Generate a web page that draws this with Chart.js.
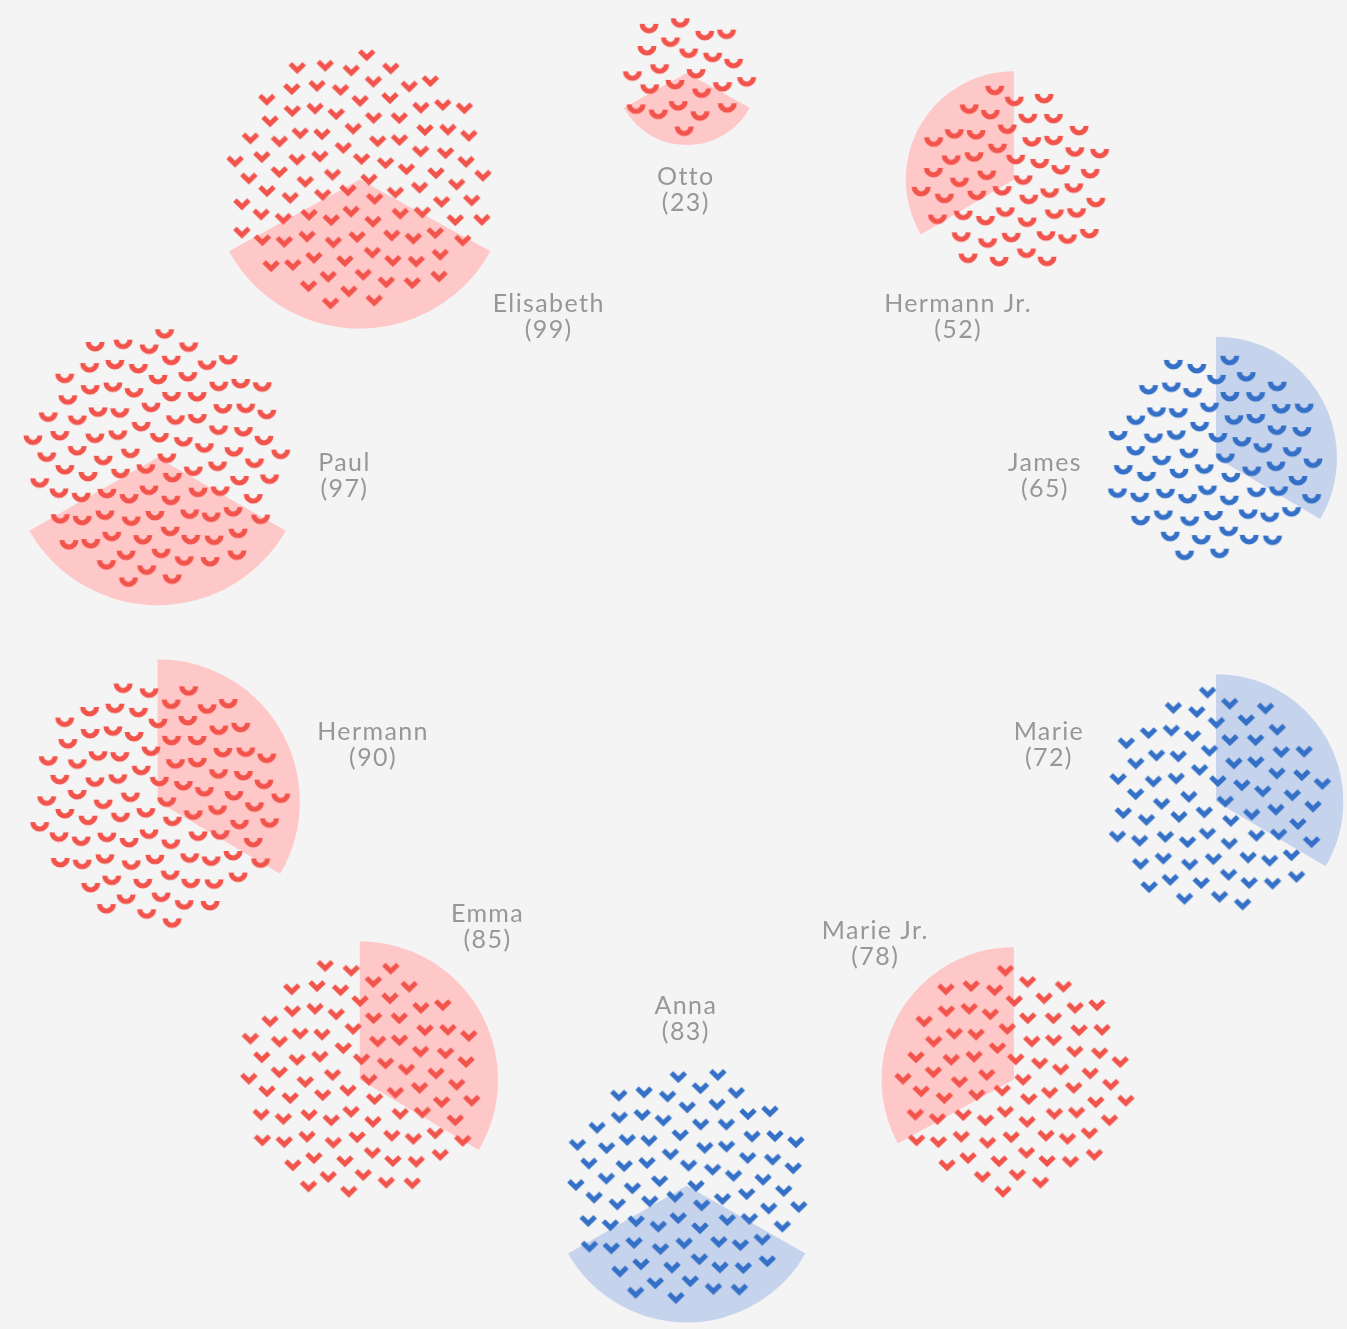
<!DOCTYPE html>
<html>
<head>
<meta charset="utf-8">
<title>Familie</title>
<script src="https://cdn.jsdelivr.net/npm/chart.js@4.4.0/dist/chart.umd.min.js"></script>
<style>
  html, body { margin: 0; padding: 0; background: #f4f4f4; }
  #wrap { width: 1347px; height: 1329px; }
</style>
</head>
<body>
<div id="wrap"><canvas id="ring" width="1347" height="1329"></canvas></div>
<script>
// === DATA (clockwise from the top, smallest first) ===
const names  = ['Otto', 'Hermann Jr.', 'James', 'Marie', 'Marie Jr.', 'Anna', 'Emma', 'Hermann', 'Paul', 'Elisabeth'];
const values = [23, 52, 65, 72, 78, 83, 85, 90, 97, 99];
const share  = [0.34, 0.335, 0.335, 0.335, 0.33, 0.335, 0.335, 0.335, 0.335, 0.34];
const side   = ['down', 'left', 'right', 'right', 'left', 'down', 'right', 'right', 'down', 'down'];
const glyph  = ['smile', 'smile', 'smile', 'check', 'check', 'check', 'check', 'smile', 'smile', 'check'];
const group  = ['red', 'red', 'blue', 'blue', 'red', 'blue', 'red', 'red', 'red', 'red'];

// label anchors (centre of the two text lines)
const labelAt = [[686, 183], [962, 312], [1050, 473], [1054, 746], [878, 948],
                 [686, 1024], [485, 931], [369, 746], [340, 473], [547, 312]];

// === LAYOUT ===
const W = 1347, H = 1329;
const RING = { x: 687, y: 629, r: 564 };
const CLOUD_K = 13.2;   // cloud radius = k * sqrt(n)
const WEDGE_K = 15.2;   // wedge radius = k * sqrt(n)

const palette = {
  red:  { ink: '#f2544c', soft: '#ffc8c8' },
  blue: { ink: '#3470c7', soft: '#c5d3ec' }
};

const centers = values.map((v, i) => {
  const a = i * Math.PI * 2 / values.length;
  return { x: RING.x + RING.r * Math.sin(a), y: RING.y - RING.r * Math.cos(a) };
});

// sunflower spread of n marks inside a disc
function cloud(c, n, r){
  const pts = [];
  const golden = Math.PI * (3 - Math.sqrt(5));
  for (let i = 0; i < n; i++){
    const d = r * Math.sqrt((i + 0.5) / n);
    const a = i * golden;
    pts.push({ x: c.x + d * Math.cos(a), y: c.y + d * Math.sin(a) });
  }
  return pts;
}

// === MARKS ===
function makeGlyph(kind, color){
  const c = document.createElement('canvas');
  c.width = 22; c.height = 16;
  const g = c.getContext('2d');
  g.fillStyle = color; g.strokeStyle = color;
  if (kind === 'check'){
    g.lineWidth = 5; g.lineJoin = 'miter'; g.lineCap = 'butt';
    g.beginPath(); g.moveTo(4, 4); g.lineTo(11, 10.8); g.lineTo(18, 4); g.stroke();
  } else {
    g.beginPath();
    g.arc(11, 4, 9.5, 0, Math.PI);
    g.arc(11, 4, 4.4, Math.PI, 0, true);
    g.closePath(); g.fill();
  }
  return c;
}
const glyphs = {};
['check', 'smile'].forEach(k => ['red', 'blue'].forEach(col => {
  glyphs[k + '-' + col] = makeGlyph(k, palette[col].ink);
}));

const datasets = values.map((v, i) => ({
  label: names[i],
  data: cloud(centers[i], v, CLOUD_K * Math.sqrt(v)),
  pointStyle: glyphs[glyph[i] + '-' + group[i]],
  pointRadius: 8,
  showLine: false
}));

// === PLUGINS ===
const backdrop = {
  id: 'backdrop',
  beforeDraw(chart){
    const ctx = chart.ctx;
    ctx.save(); ctx.fillStyle = '#f4f4f4'; ctx.fillRect(0, 0, chart.width, chart.height); ctx.restore();
  }
};

const wedges = {
  id: 'wedges',
  beforeDatasetsDraw(chart){
    const { ctx, scales: { x, y } } = chart;
    ctx.save();
    values.forEach((v, i) => {
      const c = centers[i];
      const px = x.getPixelForValue(c.x), py = y.getPixelForValue(c.y);
      const rad = Math.abs(x.getPixelForValue(c.x + WEDGE_K * Math.sqrt(v)) - px);
      const span = share[i] * Math.PI * 2;
      let start;
      if (side[i] === 'down') start = Math.PI / 2 - span / 2;
      else if (side[i] === 'right') start = -Math.PI / 2;
      else start = -Math.PI / 2 - span;
      ctx.beginPath();
      ctx.moveTo(px, py);
      ctx.arc(px, py, rad, start, start + span);
      ctx.closePath();
      ctx.fillStyle = palette[group[i]].soft;
      ctx.fill();
    });
    ctx.restore();
  }
};

const labels = {
  id: 'labels',
  afterDatasetsDraw(chart){
    const { ctx, scales: { x, y } } = chart;
    ctx.save();
    ctx.font = '25px Lato';
    ctx.letterSpacing = '1.4px';
    ctx.fillStyle = '#979797';
    ctx.textAlign = 'center';
    ctx.textBaseline = 'middle';
    names.forEach((n, i) => {
      const px = x.getPixelForValue(labelAt[i][0]), py = y.getPixelForValue(labelAt[i][1]);
      ctx.fillText(n, px, py - 13);
      ctx.fillText('(' + values[i] + ')', px, py + 13);
    });
    ctx.restore();
  }
};

// === CHART ===
new Chart(document.getElementById('ring'), {
  type: 'scatter',
  data: { datasets },
  options: {
    responsive: false,
    animation: false,
    events: [],
    layout: { padding: 0 },
    scales: {
      x: { type: 'linear', min: 0, max: W, display: false },
      y: { type: 'linear', min: 0, max: H, reverse: true, display: false }
    },
    plugins: { legend: { display: false }, tooltip: { enabled: false } }
  },
  plugins: [backdrop, wedges, labels]
});
</script>
</body>
</html>
